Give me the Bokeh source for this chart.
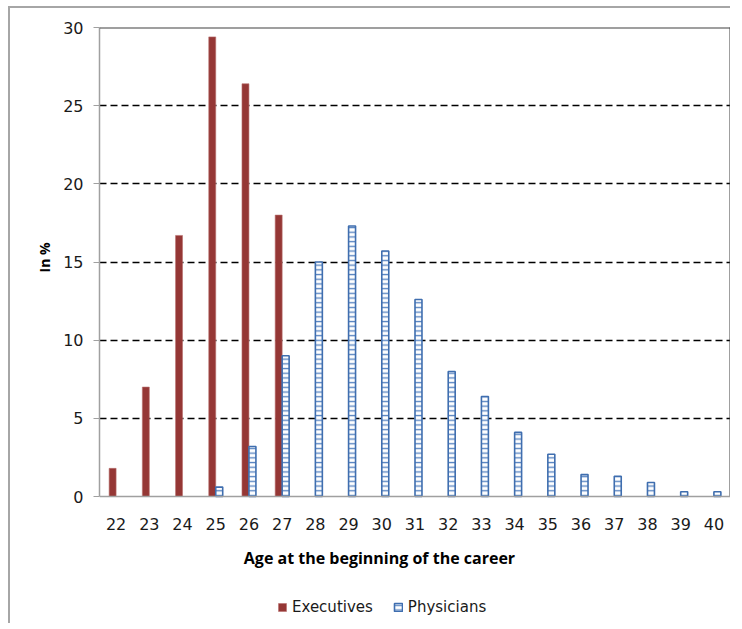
from bokeh.core.properties import value
from bokeh.embed import file_html
from bokeh.resources import INLINE
from bokeh.models import (ColumnDataSource, FixedTicker, Label, LabelSet, Legend, LegendItem,
                          LinearAxis, Range1d, Span, Title)
from bokeh.plotting import figure

# data (share in %)
ages = list(range(22, 41))
executives = [1.8, 7.0, 16.7, 29.4, 26.4, 18.0, 0, 0, 0, 0, 0, 0, 0, 0, 0, 0, 0, 0, 0]
physicians = [0, 0, 0, 0.6, 3.2, 9.0, 15.0, 17.3, 15.7, 12.6, 8.0, 6.4, 4.1, 2.7, 1.4, 1.3, 0.9, 0.3, 0.3]
y_ticks = [0, 5, 10, 15, 20, 25, 30]

BAR_W = 0.21
PLOT_PX = 469            # pixel height of the 0..30 band
EXTRA_PX = 125           # room under the x axis for labels and legend (kept inside the frame)
Y_MAX = 30
PX_PER_UNIT = PLOT_PX / Y_MAX
Y_MIN = -EXTRA_PX / PX_PER_UNIT

exe_src = ColumnDataSource(data=dict(
    x=[a - BAR_W / 2 for a, v in zip(ages, executives) if v > 0],
    top=[v for v in executives if v > 0],
))
phy_src = ColumnDataSource(data=dict(
    x=[a + BAR_W / 2 for a, v in zip(ages, physicians) if v > 0],
    top=[v for v in physicians if v > 0],
))
tick_src = ColumnDataSource(data=dict(
    x=ages, y=[-27 / PX_PER_UNIT] * len(ages), label=[str(a) for a in ages],
))

p = figure(
    frame_width=631, frame_height=PLOT_PX + EXTRA_PX,
    min_border_left=89, min_border_right=0, min_border_top=19, min_border_bottom=2,
    x_range=Range1d(ages[0] - 0.5, ages[-1] + 0.5),
    y_range=Range1d(Y_MIN, Y_MAX),
    output_backend="svg", toolbar_location=None,
    styles={"margin-left": "8px", "margin-top": "6px",
            "border-top": "2px solid #A6A6A6", "border-left": "2px solid #A6A6A6"},
)
p.outline_line_color = None
p.xaxis.visible = False

exe = p.vbar(x="x", top="top", width=BAR_W, source=exe_src,
             fill_color="#953735", line_color="#B8716F", line_width=0.6)
phy = p.vbar(x="x", top="top", width=BAR_W, source=phy_src,
             fill_color="white", line_color="#3F6EAF", line_width=1.6,
             hatch_pattern="horizontal_line", hatch_color="#5B86C2",
             hatch_scale=4.7, hatch_weight=1.4)

# plot-area border: gray x axis line at 0, dark lines on top and right
p.add_layout(Span(location=0, dimension="width", line_color="#A0A0A0", line_width=1.5))
p.add_layout(Span(location=Y_MAX, dimension="width", line_color="#404040", line_width=2))
right = LinearAxis(bounds=(0, Y_MAX), ticker=FixedTicker(ticks=[]),
                   axis_line_color="#404040", axis_line_width=2,
                   major_tick_line_color=None, minor_tick_line_color=None,
                   major_label_text_font_size="0px", major_label_standoff=0)
p.add_layout(right, "right")

# y axis
yax = p.yaxis[0]
yax.bounds = (0, Y_MAX)
yax.ticker = FixedTicker(ticks=y_ticks)
yax.axis_line_color = "#A0A0A0"
yax.axis_line_width = 1.5
yax.major_tick_line_color = "#A0A0A0"
yax.major_tick_out = 6
yax.major_tick_in = 0
yax.minor_tick_line_color = None
yax.major_label_standoff = 10
yax.major_label_text_font = "DejaVu Sans"
yax.major_label_text_font_size = "16px"
yax.major_label_text_color = "#1a1a1a"

# y label, lifted to the middle of the 0..30 band
ylabel = Title(text="In %", align="left", offset=349, vertical_align="middle",
               text_font="Open Sans", text_font_style="bold", text_font_size="14px",
               text_color="#000000", standoff=12)
p.add_layout(ylabel, "left")

# x tick labels drawn inside the extended frame
p.add_layout(LabelSet(x="x", y="y", text="label", source=tick_src,
                      text_align="center", text_baseline="middle",
                      text_font=value("DejaVu Sans"), text_font_size="16px",
                      text_color="#1a1a1a"))

# grid
p.xgrid.grid_line_color = None
p.ygrid.ticker = FixedTicker(ticks=y_ticks[1:-1])
p.ygrid.grid_line_color = "black"
p.ygrid.grid_line_dash = "7 4"
p.ygrid.grid_line_width = 1.3

p.add_layout(Label(x=(ages[0] + ages[-1]) / 2 - 1.07, y=-61 / PX_PER_UNIT,
                   text="Age at the beginning of the career",
                   text_align="center", text_baseline="middle",
                   text_font="Open Sans", text_font_style="bold", text_font_size="16px",
                   text_color="#000000"))

legend = Legend(items=[LegendItem(label="Executives", renderers=[exe]),
                       LegendItem(label="Physicians", renderers=[phy])],
                orientation="horizontal", location=(178, 5),
                glyph_width=10, glyph_height=10, label_standoff=5, spacing=20,
                padding=0, margin=0, border_line_color=None, background_fill_alpha=0,
                label_text_font="DejaVu Sans", label_text_font_size="15px",
                label_text_color="#1a1a1a")
p.add_layout(legend, "center")

open("out.html", "w").write(file_html(p, INLINE))
